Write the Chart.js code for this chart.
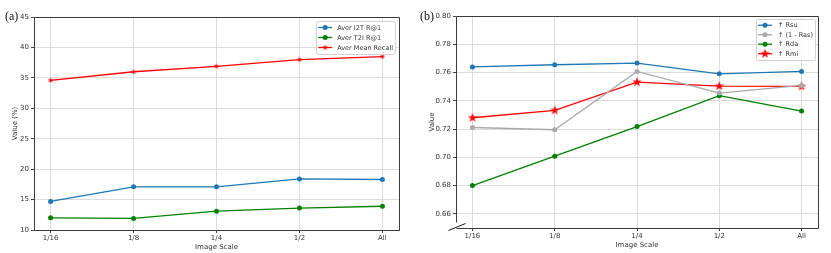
<!DOCTYPE html>
<html>
<head>
<meta charset="utf-8">
<script src="https://cdn.jsdelivr.net/npm/chart.js@4.4.0/dist/chart.umd.min.js"></script>
<style>
html, body { margin: 0; padding: 0; background: #fff; }
#wrap { position: relative; width: 831px; height: 253px; overflow: hidden; }
.panel { position: absolute; top: 0; }
.tag { position: absolute; font-family: "Liberation Serif", serif; font-size: 12px; color: #111; line-height: 1; }
</style>
</head>
<body>
<div id="wrap">
  <canvas id="chartA" class="panel" style="left:0;width:415px;height:253px" width="415" height="253"></canvas>
  <canvas id="chartB" class="panel" style="left:415px;width:416px;height:253px" width="416" height="253"></canvas>
  <div class="tag" style="left:5px;top:10px">(a)</div>
  <div class="tag" style="left:420px;top:10px">(b)</div>
</div>
<script>
// datos
const escalas = ['1/16', '1/8', '1/4', '1/2', 'All'];

// panel (a)
const averI2T = [14.7, 17.1, 17.1, 18.4, 18.3];
const averT2I = [12.0, 11.9, 13.1, 13.6, 13.9];
const averMeanRecall = [34.6, 36.0, 36.9, 38.0, 38.5];
const ticksA = [10, 15, 20, 25, 30, 35, 40, 45];

// panel (b)
const rsu = [0.764, 0.7655, 0.7667, 0.7591, 0.7608];
const unoMenosRas = [0.7211, 0.7195, 0.7608, 0.7455, 0.7509];
const rda = [0.680, 0.7008, 0.7218, 0.7436, 0.7327];
const rmi = [0.728, 0.7332, 0.7532, 0.7504, 0.7502];
const ticksB = [0.66, 0.68, 0.70, 0.72, 0.74, 0.76, 0.78, 0.80];

const FUENTE = 'DejaVu Sans';
const GRIS_GRID = '#dcdcdc';
const GRIS_TEXTO = '#333';

// marcador estrella rellena (tipo matplotlib '*')
function crearEstrella(r, color) {
    const c = document.createElement('canvas');
    const s = Math.ceil(r * 2 + 2);
    c.width = s; c.height = s;
    const g = c.getContext('2d');
    const cx = s / 2, cy = s / 2;
    g.beginPath();
    for (let i = 0; i < 10; i++) {
        const rad = i % 2 === 0 ? r : r * 0.4;
        const a = -Math.PI / 2 + i * Math.PI / 5;
        const px = cx + rad * Math.cos(a), py = cy + rad * Math.sin(a);
        if (i === 0) g.moveTo(px, py); else g.lineTo(px, py);
    }
    g.closePath();
    g.fillStyle = color;
    g.fill();
    return c;
}

const aPuntos = arr => arr.map((v, i) => ({ x: i, y: v }));

// marco de los ejes (spines) + corte del eje en (b)
const marcoPlugin = {
    id: 'marco',
    afterDatasetsDraw(chart, args, opts) {
        const { left, right, top, bottom } = chart.chartArea;
        const ctx = chart.ctx;
        ctx.save();
        ctx.strokeStyle = '#3a3a3a';
        ctx.lineWidth = 1;
        ctx.beginPath();
        const l = Math.round(left) + 0.5, r = Math.round(right) + 0.5;
        const t = Math.round(top) + 0.5, b = Math.round(bottom) + 0.5;
        ctx.moveTo(l, t); ctx.lineTo(r, t); ctx.lineTo(r, b); ctx.lineTo(l, b);
        if (opts.corte) {
            ctx.moveTo(l, t); ctx.lineTo(l, b - 6);
            ctx.stroke();
            ctx.beginPath();
            ctx.strokeStyle = '#111';
            ctx.moveTo(l - 8, b + 2);
            ctx.lineTo(l + 9, b - 5);
        } else {
            ctx.lineTo(l, t);
        }
        ctx.stroke();
        ctx.restore();
    }
};

// leyenda dentro del área del gráfico, arriba a la derecha
const leyendaPlugin = {
    id: 'leyenda',
    afterDraw(chart, args, opts) {
        const ctx = chart.ctx;
        const ds = chart.data.datasets;
        ctx.save();
        ctx.font = opts.fontSize + 'px "' + FUENTE + '"';
        const anchoTexto = Math.max(...ds.map(d => ctx.measureText(d.label).width));
        const w = opts.padX * 2 + opts.handleW + opts.gap + anchoTexto;
        const h = opts.padY * 2 + ds.length * opts.rowH;
        const x = chart.chartArea.right - opts.inset - w;
        const y = chart.chartArea.top + opts.inset;
        ctx.fillStyle = 'rgba(255,255,255,0.85)';
        ctx.strokeStyle = '#d0d0d0';
        ctx.lineWidth = 1;
        ctx.beginPath();
        ctx.roundRect(Math.round(x) + 0.5, Math.round(y) + 0.5, w, h, 2);
        ctx.fill();
        ctx.stroke();
        ds.forEach((d, i) => {
            const cy = y + opts.padY + opts.rowH * (i + 0.5);
            const x0 = x + opts.padX, x1 = x0 + opts.handleW;
            ctx.strokeStyle = d.borderColor;
            ctx.lineWidth = d.borderWidth;
            ctx.beginPath();
            ctx.moveTo(x0, cy); ctx.lineTo(x1, cy);
            ctx.stroke();
            ctx.fillStyle = d.pointBackgroundColor;
            ctx.strokeStyle = d.pointBorderColor;
            Chart.helpers.drawPoint(ctx, {
                pointStyle: d.pointStyle, radius: d.pointRadius, rotation: 0, borderWidth: 0
            }, (x0 + x1) / 2, cy);
            ctx.fillStyle = GRIS_TEXTO;
            ctx.textBaseline = 'middle';
            ctx.fillText(d.label, x1 + opts.gap, cy + 0.5);
        });
        ctx.restore();
    }
};

function serie(label, data, color, estilo, radio) {
    return {
        label: label,
        data: aPuntos(data),
        borderColor: color,
        backgroundColor: color,
        pointBackgroundColor: color,
        pointBorderColor: color,
        borderWidth: 1.3,
        pointStyle: estilo,
        pointRadius: radio,
        pointBorderWidth: 0,
        tension: 0
    };
}

function opcionesEjes(cfg) {
    return {
        x: {
            type: 'linear',
            min: -0.2,
            max: 4.2,
            afterBuildTicks: s => { s.ticks = escalas.map((_, i) => ({ value: i })); },
            afterFit: s => { s.height = cfg.altoX; },
            grid: { color: GRIS_GRID, lineWidth: 1, tickLength: 3, tickColor: '#444' },
            border: { display: false },
            ticks: {
                autoSkip: false, maxRotation: 0, padding: 1,
                color: GRIS_TEXTO, font: { family: FUENTE, size: 7 },
                callback: v => escalas[v]
            },
            title: {
                display: true, text: 'Image Scale', color: GRIS_TEXTO,
                font: { family: FUENTE, size: 7 }, padding: { top: 0, bottom: cfg.padTituloX }
            }
        },
        y: {
            type: 'linear',
            min: cfg.min,
            max: cfg.max,
            afterBuildTicks: s => { s.ticks = cfg.ticks.map(v => ({ value: v })); },
            afterFit: s => { s.width = cfg.anchoY; },
            grid: { color: GRIS_GRID, lineWidth: 1, tickLength: 3, tickColor: '#444' },
            border: { display: false },
            ticks: {
                padding: 2, color: GRIS_TEXTO, font: { family: FUENTE, size: 7 },
                callback: cfg.formato
            },
            title: {
                display: true, text: cfg.tituloY, color: GRIS_TEXTO,
                font: { family: FUENTE, size: 7 }, padding: { top: cfg.padTituloY, bottom: 0 }
            }
        }
    };
}

new Chart(document.getElementById('chartA'), {
    type: 'line',
    data: {
        datasets: [
            serie('Aver I2T R@1', averI2T, '#1f77b4', 'circle', 2.5),
            serie('Aver T2I R@1', averT2I, '#008000', 'circle', 2.5),
            serie('Aver Mean Recall', averMeanRecall, '#ff0000', crearEstrella(3, '#ff0000'), 3)
        ]
    },
    options: {
        responsive: false,
        animation: false,
        devicePixelRatio: 1,
        layout: { padding: { top: 17, right: 16, bottom: 0, left: 0 } },
        plugins: {
            legend: { display: false },
            tooltip: { enabled: false },
            marco: { corte: false },
            leyenda: { fontSize: 6.5, rowH: 10, padX: 2, padY: 1.5, handleW: 14, gap: 5, inset: 4 }
        },
        scales: opcionesEjes({
            min: 10, max: 45, ticks: ticksA, anchoY: 34, altoX: 23,
            tituloY: 'Value (%)', padTituloY: 11, padTituloX: 2,
            formato: v => v
        })
    },
    plugins: [marcoPlugin, leyendaPlugin]
});

new Chart(document.getElementById('chartB'), {
    type: 'line',
    data: {
        datasets: [
            serie('\u2191 Rsu', rsu, '#1f77b4', 'circle', 2.5),
            serie('\u2191 (1 - Ras)', unoMenosRas, '#a9a9a9', 'circle', 2.5),
            serie('\u2191 Rda', rda, '#008000', 'circle', 2.5),
            serie('\u2191 Rmi', rmi, '#ff0000', crearEstrella(5, '#ff0000'), 5)
        ]
    },
    options: {
        responsive: false,
        animation: false,
        devicePixelRatio: 1,
        layout: { padding: { top: 16, right: 13, bottom: 0, left: 0 } },
        plugins: {
            legend: { display: false },
            tooltip: { enabled: false },
            marco: { corte: true },
            leyenda: { fontSize: 6.5, rowH: 9.5, padX: 2, padY: 1.5, handleW: 14, gap: 6, inset: 3 }
        },
        scales: opcionesEjes({
            min: 0.65, max: 0.80, ticks: ticksB, anchoY: 41, altoX: 25,
            tituloY: 'Value', padTituloY: 13, padTituloX: 4,
            formato: v => Number(v).toFixed(2)
        })
    },
    plugins: [marcoPlugin, leyendaPlugin]
});
</script>
</body>
</html>
